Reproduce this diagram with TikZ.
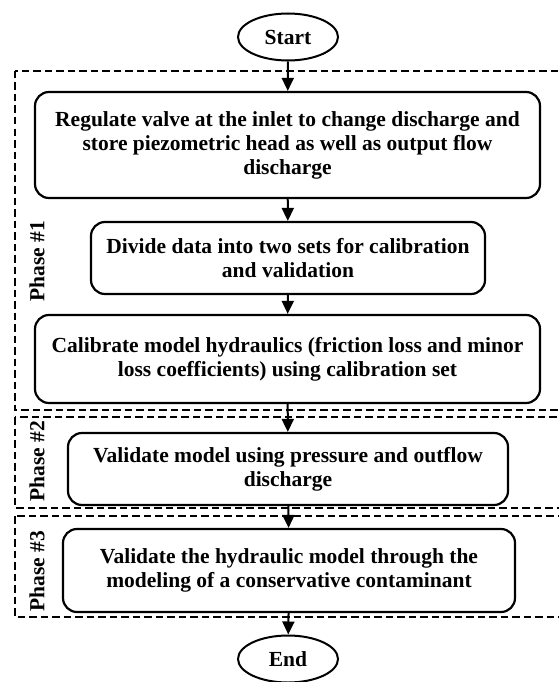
\documentclass[tikz,border=0pt]{standalone}
\usepackage{fontspec}
\setmainfont{Liberation Serif}
\usetikzlibrary{shapes.geometric,arrows.meta}
\begin{document}
\begin{tikzpicture}[x=1pt,y=-1pt,
  proc/.style={draw, line width=2.2pt, rounded corners=14pt, align=center,
    font=\fontsize{21.5}{24}\selectfont\bfseries, inner sep=0pt},
  term/.style={draw, ellipse, line width=2pt, minimum width=100pt, minimum height=47pt,
    inner sep=0pt, font=\fontsize{21.5}{24}\selectfont\bfseries},
  phasebox/.style={draw, line width=2pt, dash pattern=on 7.5pt off 4pt},
  plabel/.style={rotate=90, font=\fontsize{21.5}{24}\selectfont\bfseries, inner sep=0pt},
  flow/.style={line width=2pt, -{Triangle[width=12pt,length=13pt]}}
]
\useasboundingbox (0,0) rectangle (558,682);
% phase frames
\draw[phasebox] (15,71) rectangle (580,410);
\draw[phasebox] (15,417) rectangle (580,508);
\draw[phasebox] (15,516) rectangle (580,617);
% phase labels
\node[plabel] (p1) at (37,261) {Phase \#1};
\node[plabel] (p2) at (37,461) {Phase \#2};
\node[plabel] (p3) at (37,571) {Phase \#3};
% terminals
\node[term] (start) at (288,37) {Start};
\node[term] (end) at (288,659) {End};
% process boxes
\node[proc, minimum width=505pt, minimum height=106pt] (b1) at (287.5,145)
  {Regulate valve at the inlet to change discharge and\\store piezometric head as well as output flow\\discharge};
\node[proc, minimum width=394pt, minimum height=72pt] (b2) at (288,258)
  {Divide data into two sets for calibration\\and validation};
\node[proc, minimum width=505pt, minimum height=88pt] (b3) at (287.5,359)
  {Calibrate model hydraulics (friction loss and minor\\loss coefficients) using calibration set};
\node[proc, minimum width=440pt, minimum height=72pt] (b4) at (288,469)
  {Validate model using pressure and outflow\\discharge};
\node[proc, minimum width=452pt, minimum height=83pt] (b5) at (289,570.5)
  {Validate the hydraulic model through the\\modeling of a conservative contaminant};
% connectors
\draw[flow] (start) -- (b1);
\draw[flow] (b1) -- (b2);
\draw[flow] (b2) -- (b3);
\draw[flow] (b3) -- (b4);
\draw[flow] (b4) -- (b5);
\draw[flow] (b5) -- (end);
\end{tikzpicture}
\end{document}
